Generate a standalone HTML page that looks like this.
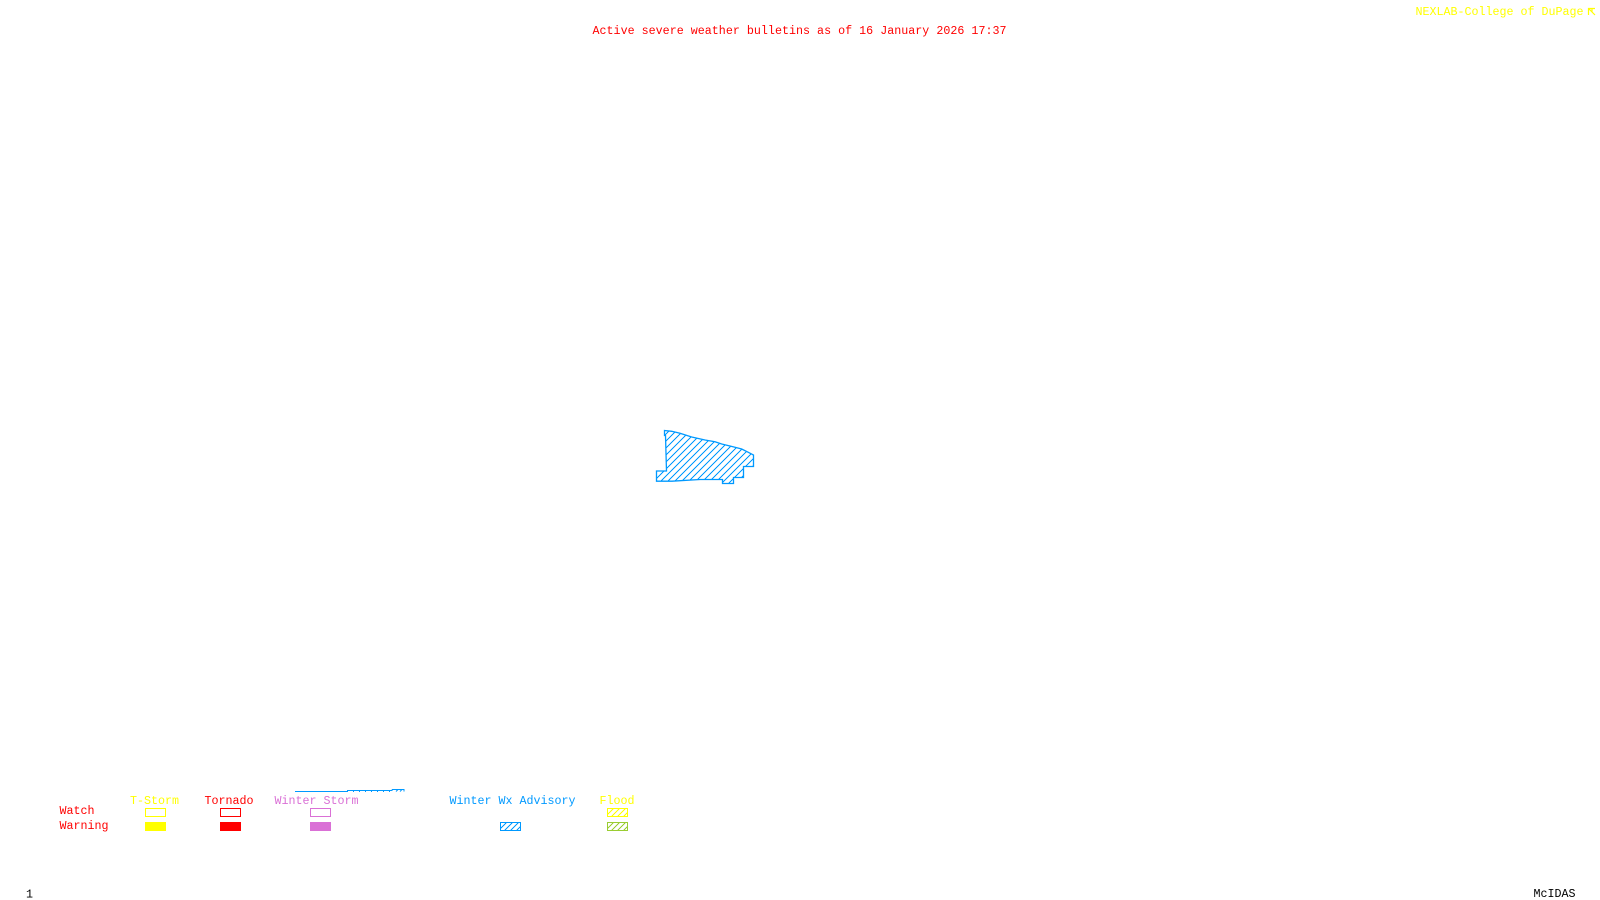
<!DOCTYPE html>
<html>
<head>
<meta charset="utf-8">
<style>
html,body{margin:0;padding:0;background:#fff;width:1600px;height:900px;overflow:hidden}
svg{display:block}
text{font-family:"Liberation Mono",monospace;font-size:11.67px;white-space:pre}
</style>
</head>
<body>
<svg width="1600" height="900" viewBox="0 0 1600 900" xmlns="http://www.w3.org/2000/svg">
<defs>
<clipPath id="cp"><path d="M664.5 430.5L671.7 431.3L680 433.3L691.7 437L705 440L715 441.7L721.7 444L733 446.7L741.7 449L748.3 452.3L753.5 455V466.5H743.5V477.5H733.5V483.5H722.5V479.5H700L672 481.2H656.5V471H666.5L665.5 435.5L664.5 435.5Z"/></clipPath>
<clipPath id="c1"><rect x="500" y="822" width="21" height="9"/></clipPath>
<clipPath id="c2"><rect x="607" y="808" width="21" height="9"/></clipPath>
<clipPath id="c3"><rect x="607" y="822" width="21" height="9"/></clipPath>
</defs>
<rect width="1600" height="900" fill="#fff"/>

<text x="592.5" y="34" fill="#ff0000" textLength="414">Active severe weather bulletins as of 16 January 2026 17:37</text>
<text x="1415.5" y="15" fill="#ffff00" textLength="168">NEXLAB-College of DuPage</text>
<path d="M1588.5 15V8.5H1595M1588.5 8.5L1595 15M1592 8.5V12" stroke="#ffff00" stroke-width="1.2" fill="none"/>

<g clip-path="url(#cp)">
<path shape-rendering="crispEdges" stroke="#0099ff" stroke-width="1" fill="none" d="M650 436l110 -110M650 443l110 -110M650 450l110 -110M650 457l110 -110M650 464l110 -110M650 471l110 -110M650 478l110 -110M650 485l110 -110M650 492l110 -110M650 499l110 -110M650 506l110 -110M650 513l110 -110M650 520l110 -110M650 527l110 -110M650 534l110 -110M650 541l110 -110M650 548l110 -110M650 555l110 -110M650 562l110 -110M650 569l110 -110M650 576l110 -110M650 583l110 -110M650 590l110 -110"/>
</g>
<path d="M664.5 430.5L671.7 431.3L680 433.3L691.7 437L705 440L715 441.7L721.7 444L733 446.7L741.7 449L748.3 452.3L753.5 455V466.5H743.5V477.5H733.5V483.5H722.5V479.5H700L672 481.2H656.5V471H666.5L665.5 435.5L664.5 435.5Z" fill="none" stroke="#0099ff" stroke-width="1.3"/>

<path d="M295 791.5H347M347 790.5H392" stroke="#0099ff" stroke-width="1" fill="none"/>
<path d="M347 791.5H392" stroke="#0099ff" stroke-width="1" stroke-dasharray="1 5" fill="none"/>
<path d="M392 789.5H404V791.5M392 789.5V791M396 791.5L398 789.5M400 791.5L402 789.5" stroke="#0099ff" stroke-width="1" fill="none"/>

<text x="130" y="804" fill="#ffff00" textLength="49">T-Storm</text>
<text x="204.5" y="804" fill="#ff0000" textLength="49">Tornado</text>
<text x="274.5" y="804" fill="#da70d6" textLength="84">Winter Storm</text>
<text x="449.5" y="804" fill="#0099ff" textLength="126">Winter Wx Advisory</text>
<text x="599.5" y="804" fill="#ffff00" textLength="35">Flood</text>
<text x="59.5" y="814" fill="#ff0000" textLength="35">Watch</text>
<text x="59.5" y="829" fill="#ff0000" textLength="49">Warning</text>

<rect x="145.5" y="808.5" width="20" height="8" fill="none" stroke="#ffff00"/>
<rect x="220.5" y="808.5" width="20" height="8" fill="none" stroke="#ff0000"/>
<rect x="310.5" y="808.5" width="20" height="8" fill="none" stroke="#da70d6"/>

<g clip-path="url(#c2)"><path shape-rendering="crispEdges" stroke="#ffff00" fill="none" d="M604 818l12 -12M610 818l12 -12M616 818l12 -12M622 818l12 -12"/></g>
<rect x="607.5" y="808.5" width="20" height="8" fill="none" stroke="#ffff00"/>

<rect x="145" y="822" width="21" height="9" fill="#ffff00"/>
<rect x="220" y="822" width="21" height="9" fill="#ff0000"/>
<rect x="310" y="822" width="21" height="9" fill="#da70d6"/>

<g clip-path="url(#c1)"><path shape-rendering="crispEdges" stroke="#0099ff" fill="none" d="M497 832l12 -12M503 832l12 -12M509 832l12 -12M515 832l12 -12"/></g>
<rect x="500.5" y="822.5" width="20" height="8" fill="none" stroke="#0099ff"/>

<g clip-path="url(#c3)"><path shape-rendering="crispEdges" stroke="#9acd32" fill="none" d="M604 832l12 -12M610 832l12 -12M616 832l12 -12M622 832l12 -12"/></g>
<rect x="607.5" y="822.5" width="20" height="8" fill="none" stroke="#9acd32"/>

<text x="26" y="897.5" fill="#000">1</text>
<text x="1533.5" y="897" fill="#000" textLength="42">McIDAS</text>
</svg>
</body>
</html>
